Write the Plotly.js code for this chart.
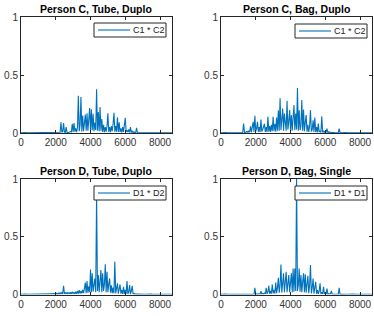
<!DOCTYPE html>
<html>
<head>
<meta charset="utf-8">
<script src="https://cdn.plot.ly/plotly-3.0.1.min.js"></script>
<style>
  html, body { margin: 0; padding: 0; background: #fff; }
  #chart { width: 374px; height: 316px; }
</style>
</head>
<body>
<div id="chart"></div>
<script>
// Normalised cross-products, one sample every 50 points from 0 to 8700.
const sampleStart = 0;
const sampleStep = 50;

const panelTitles = [
  "Person C, Tube, Duplo",
  "Person C, Bag, Duplo",
  "Person D, Tube, Duplo",
  "Person D, Bag, Single"
];
const seriesNames = ["C1 * C2", "C1 * C2", "D1 * D2", "D1 * D1"];

const xTickVals = [0, 2000, 4000, 6000, 8000];
const yTickVals = [0, 0.5, 1];
const yTickText = ["0", "0.5", "1"];

const cTube = [
  .002,.003,.002,.003,.002,.002,.003,.002,.002,.003,.002,.002,.003,.002,.002,.003,.002,.002,.003,.002,
  .002,.003,.002,.002,.003,.002,.003,.002,.002,.003,.002,.003,.002,.002,.003,.002,.003,.002,.003,.004,
  .003,.002,.004,.003,.005,.006,.093,.006,.012,.085,.008,.005,.05,.004,.003,.006,.008,.012,.006,.08,
  .01,.085,.012,.04,.008,.05,.32,.015,.07,.31,.012,.15,.015,.08,.16,.02,.17,.02,.1,.215,
  .02,.205,.025,.165,.015,.09,.025,.377,.02,.18,.015,.225,.02,.12,.01,.07,.008,.05,.012,.06,
  .17,.01,.05,.008,.06,.015,.08,.175,.01,.06,.012,.135,.01,.093,.008,.04,.006,.05,.01,.06,
  .13,.012,.02,.008,.03,.005,.05,.004,.02,.003,.01,.003,.004,.045,.002,.002,.002,.003,.002,.003,
  .002,.003,.002,.002,.003,.002,.002,.003,.002,.002,.003,.002,.002,.003,.002,.002,.003,.002,.002,.003,
  .002,.002,.003,.002,.002,.003,.002,.002,.003,.002,.002,.003,.002,.002,.002
];

const cBag = [
  .002,.003,.002,.003,.002,.002,.003,.002,.002,.003,.002,.002,.003,.002,.002,.003,.002,.002,.003,.002,
  .002,.003,.002,.004,.003,.004,.081,.005,.004,.008,.015,.005,.02,.006,.058,.008,.04,.096,.01,.148,
  .015,.04,.096,.01,.05,.008,.116,.012,.03,.06,.08,.01,.05,.008,.14,.012,.06,.01,.07,.015,
  .14,.015,.08,.012,.133,.02,.197,.02,.30,.025,.12,.21,.02,.168,.09,.02,.278,.03,.1,.197,
  .025,.154,.02,.11,.24,.025,.168,.03,.388,.02,.197,.025,.06,.284,.02,.203,.015,.09,.154,.012,
  .07,.01,.06,.197,.012,.03,.11,.01,.133,.008,.05,.006,.081,.008,.02,.005,.145,.006,.015,.004,
  .02,.005,.038,.004,.01,.003,.008,.003,.005,.003,.004,.002,.003,.002,.004,.003,.038,.003,.002,.003,
  .002,.003,.002,.002,.003,.002,.002,.003,.002,.002,.003,.002,.002,.003,.002,.002,.003,.002,.002,.003,
  .002,.002,.003,.002,.002,.003,.002,.002,.003,.002,.002,.003,.002,.002,.002
];

const dTube = [
  .002,.003,.002,.003,.002,.002,.003,.002,.002,.003,.002,.002,.003,.002,.002,.003,.002,.002,.003,.002,
  .002,.002,.003,.002,.003,.002,.003,.004,.003,.004,.003,.005,.004,.005,.004,.006,.005,.01,.004,.008,
  .004,.01,.003,.012,.004,.015,.005,.02,.004,.075,.006,.015,.004,.02,.005,.018,.004,.02,.005,.025,
  .006,.02,.004,.025,.006,.03,.008,.038,.008,.03,.01,.04,.012,.05,.104,.012,.116,.015,.07,.02,
  .217,.02,.183,.025,.1,.139,.02,.88,.03,.168,.02,.12,.212,.02,.183,.03,.09,.261,.02,.197,
  .02,.09,.139,.015,.08,.012,.06,.01,.284,.01,.06,.096,.008,.05,.087,.008,.04,.006,.067,.006,
  .04,.006,.116,.005,.02,.081,.004,.03,.075,.004,.01,.003,.006,.003,.004,.003,.002,.002,.002,.002,
  .002,.003,.002,.002,.003,.002,.002,.003,.002,.002,.003,.002,.002,.003,.002,.002,.003,.002,.002,.003,
  .002,.002,.003,.002,.002,.003,.002,.002,.003,.002,.002,.003,.002,.002,.002
];

const dBag = [
  .002,.003,.002,.003,.002,.002,.003,.002,.002,.003,.002,.002,.003,.002,.002,.003,.002,.002,.003,.002,
  .001,.002,.001,.002,.001,.002,.002,.003,.002,.002,.003,.002,.003,.002,.003,.002,.003,.002,.003,.058,
  .004,.003,.005,.004,.006,.004,.03,.004,.01,.004,.012,.005,.058,.006,.02,.075,.006,.03,.008,.087,
  .01,.04,.008,.104,.012,.06,.145,.015,.08,.26,.015,.1,.183,.02,.12,.197,.02,.1,.168,.02,
  .1,.183,.02,.226,.025,.226,.03,1.0,.03,.08,.226,.025,.168,.02,.11,.183,.02,.174,.015,.09,
  .162,.012,.08,.255,.01,.06,.139,.008,.05,.11,.006,.04,.005,.03,.096,.005,.02,.004,.067,.004,
  .015,.004,.052,.004,.008,.003,.006,.032,.003,.003,.002,.003,.002,.002,.003,.002,.058,.002,.001,.002,
  .002,.003,.002,.002,.003,.002,.002,.003,.002,.002,.003,.002,.002,.003,.002,.002,.003,.002,.002,.003,
  .002,.002,.003,.002,.002,.003,.002,.002,.003,.002,.002,.003,.002,.002,.002
];

const allSeries = [cTube, cBag, dTube, dBag];

// Panel boxes in pixels: [left, right, top, bottom]
const W = 374, H = 316;
const boxes = [
  [21, 172, 17, 133],
  [221, 372, 17, 133],
  [21, 172, 179, 294.5],
  [221, 372, 179, 294.5]
];
// Compact legend boxes in pixels: [left, right, top, bottom]
const keyBoxes = [
  [94, 166, 23, 37],
  [295, 367, 24, 38],
  [94, 166, 186, 200],
  [295, 367, 186, 200]
];
const lineColor = "#0072BD";
const axisColor = "#262626";
const font = "Liberation Sans, Arial, sans-serif";

const px = v => v / W;
const py = v => 1 - v / H;

const traces = [];
const layout = {
  width: W, height: H,
  margin: {l: 0, r: 0, t: 0, b: 0},
  paper_bgcolor: "#fff",
  plot_bgcolor: "#fff",
  showlegend: false,
  font: {family: font, size: 10, color: "#333"},
  annotations: [],
  shapes: []
};

allSeries.forEach((ys, i) => {
  const n = i + 1;
  const suffix = n === 1 ? "" : String(n);
  const [l, r, t, b] = boxes[i];

  traces.push({
    type: "scatter",
    mode: "lines",
    x0: sampleStart,
    dx: sampleStep,
    y: ys,
    name: seriesNames[i],
    xaxis: "x" + suffix,
    yaxis: "y" + suffix,
    line: {color: lineColor, width: 1.1},
    hoverinfo: "skip"
  });

  const common = {
    showgrid: false,
    zeroline: false,
    showline: true,
    linecolor: axisColor,
    linewidth: 1,
    mirror: "ticks",
    ticks: "inside",
    ticklen: 3,
    tickwidth: 1,
    tickcolor: axisColor,
    tickfont: {family: font, size: 10, color: "#333"},
    fixedrange: true
  };

  layout["xaxis" + suffix] = Object.assign({}, common, {
    domain: [px(l), px(r)],
    anchor: "y" + suffix,
    range: [0, 8690],
    tickmode: "array",
    tickvals: xTickVals
  });
  layout["yaxis" + suffix] = Object.assign({}, common, {
    domain: [py(b), py(t)],
    anchor: "x" + suffix,
    range: [0, 1],
    tickmode: "array",
    tickvals: yTickVals,
    ticktext: yTickText
  });

  // Key: white box with border, sample line and series name
  const [kl, kr, kt, kb] = keyBoxes[i];
  const km = (kt + kb) / 2;
  layout.shapes.push({
    type: "rect", xref: "paper", yref: "paper", layer: "above",
    x0: px(kl), x1: px(kr), y0: py(kb), y1: py(kt),
    fillcolor: "#fff", line: {color: axisColor, width: 1}
  });
  layout.shapes.push({
    type: "line", xref: "paper", yref: "paper", layer: "above",
    x0: px(kl + 4), x1: px(kl + 36), y0: py(km), y1: py(km),
    line: {color: lineColor, width: 1.1}
  });
  layout.annotations.push({
    text: seriesNames[i],
    xref: "paper", yref: "paper",
    x: px(kl + 37), y: py(km),
    xanchor: "left", yanchor: "middle",
    showarrow: false,
    font: {family: font, size: 9, color: "#222"}
  });

  layout.annotations.push({
    text: "<b>" + panelTitles[i] + "</b>",
    xref: "paper", yref: "paper",
    x: px((l + r) / 2),
    y: py(t - 7.7),
    xanchor: "center", yanchor: "middle",
    showarrow: false,
    font: {family: font, size: 10.5, color: "#000"}
  });
});

Plotly.newPlot("chart", traces, layout, {staticPlot: true, displayModeBar: false});
</script>
</body>
</html>
